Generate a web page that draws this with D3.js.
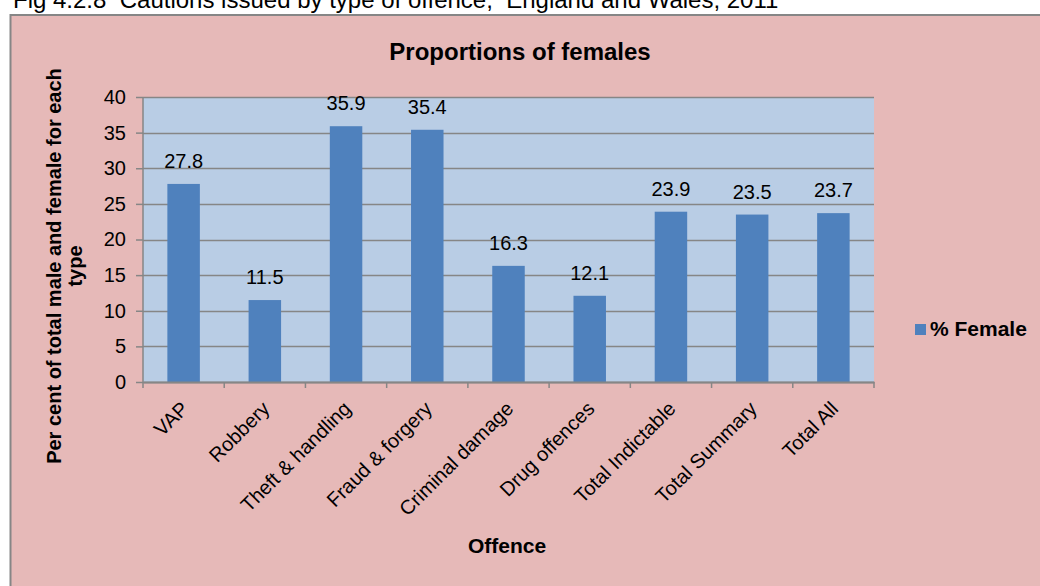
<!DOCTYPE html>
<html>
<head>
<meta charset="utf-8">
<script src="https://cdn.jsdelivr.net/npm/d3@7"></script>
<style>
  body { margin: 0; background: #ffffff; }
  svg { display: block; font-family: Arial, "Liberation Sans", sans-serif; }
</style>
</head>
<body>
<div class="chart"></div>
<script>
// Data
const categories = ["VAP", "Robbery", "Theft & handling", "Fraud & forgery", "Criminal damage",
    "Drug offences", "Total Indictable", "Total Summary", "Total All"];
const femalePct = [27.8, 11.5, 35.9, 35.4, 16.3, 12.1, 23.9, 23.5, 23.7];
const yTicks = [0, 5, 10, 15, 20, 25, 30, 35, 40];
const seriesName = "% Female";

const W = 1040, H = 586;
const margin = { top: 97, right: 166, bottom: 204, left: 143 };
const innerW = W - margin.left - margin.right;
const innerH = H - margin.top - margin.bottom;
const gridColor = "#868686";

const svg = d3.select(".chart").append("svg")
    .attr("width", W)
    .attr("height", H);

// figure caption (cut off at the top in the reference)
svg.append("text")
    .attr("x", 13)
    .attr("y", 8)
    .attr("font-size", 24)
    .attr("fill", "#000")
    .attr("xml:space", "preserve")
    .style("white-space", "pre")
    .text("Fig 4.2.8  Cautions issued by type of offence,  England and Wales, 2011");

// chart area
svg.append("rect")
    .attr("x", 10.5)
    .attr("y", 15)
    .attr("width", W)
    .attr("height", H)
    .attr("fill", "#e6b9b8")
    .attr("stroke", gridColor)
    .attr("stroke-width", 2);

const g = svg.append("g")
    .attr("transform", "translate(" + margin.left + "," + margin.top + ")");

const x = d3.scaleBand()
    .domain(categories)
    .range([0, innerW])
    .paddingInner(0.6)
    .paddingOuter(0.3);

const y = d3.scaleLinear()
    .domain([0, 40])
    .range([innerH, 0]);

// plot area
g.append("rect")
    .attr("width", innerW)
    .attr("height", innerH)
    .attr("fill", "#b9cde5");

// gridlines
g.append("g")
    .selectAll("line")
    .data(yTicks)
    .enter()
    .append("line")
    .attr("x1", 0)
    .attr("x2", innerW)
    .attr("y1", d => Math.round(y(d)) + 0.5)
    .attr("y2", d => Math.round(y(d)) + 0.5)
    .attr("stroke", gridColor)
    .attr("stroke-width", 1.5);

// bars
g.selectAll(".bar")
    .data(femalePct)
    .enter()
    .append("rect")
    .attr("class", "bar")
    .attr("x", (d, i) => x(categories[i]))
    .attr("y", d => y(d))
    .attr("width", x.bandwidth())
    .attr("height", d => innerH - y(d))
    .attr("fill", "#4f81bd");

// value labels
g.selectAll(".val")
    .data(femalePct)
    .enter()
    .append("text")
    .attr("class", "val")
    .attr("x", (d, i) => x(categories[i]) + x.bandwidth() / 2)
    .attr("y", d => y(d) - 16)
    .attr("text-anchor", "middle")
    .attr("font-size", 20)
    .attr("fill", "#000")
    .text(d => d.toFixed(1));

// y axis
const yAxis = d3.axisLeft(y).tickValues(yTicks).tickSize(7).tickPadding(10);
const yG = g.append("g").call(yAxis);
yG.select(".domain").attr("stroke", gridColor).attr("stroke-width", 1.5).attr("d", "M0," + innerH + "V0");
yG.selectAll(".tick line").attr("stroke", gridColor).attr("stroke-width", 1.5);
yG.selectAll(".tick text").attr("font-size", 20).attr("font-family", "Arial, 'Liberation Sans', sans-serif").attr("fill", "#000");

// x axis
const xAxis = d3.axisBottom(x).tickSize(0).tickFormat("");
const xG = g.append("g").attr("transform", "translate(0," + innerH + ")").call(xAxis);
xG.select(".domain").attr("stroke", gridColor).attr("stroke-width", 2);
xG.selectAll(".tick").remove();
const step = x.step();
xG.selectAll(".bound")
    .data(d3.range(categories.length + 1))
    .enter()
    .append("line")
    .attr("x1", i => i * step)
    .attr("x2", i => i * step)
    .attr("y1", 0)
    .attr("y2", 6)
    .attr("stroke", gridColor)
    .attr("stroke-width", 1.5);

// x category labels
g.selectAll(".xlab")
    .data(categories)
    .enter()
    .append("text")
    .attr("class", "xlab")
    .attr("transform", d => "translate(" + (x(d) + x.bandwidth() / 2 + 6) + "," + (innerH + 28) + ") rotate(-45)")
    .attr("text-anchor", "end")
    .attr("font-size", 20)
    .attr("fill", "#000")
    .text(d => d);

// chart title
svg.append("text")
    .attr("x", 520)
    .attr("y", 60)
    .attr("text-anchor", "middle")
    .attr("font-size", 24)
    .attr("font-weight", "bold")
    .text("Proportions of females");

// axis titles
svg.append("text")
    .attr("x", 507)
    .attr("y", 553)
    .attr("text-anchor", "middle")
    .attr("font-size", 21)
    .attr("font-weight", "bold")
    .text("Offence");

const yTitle = ["Per cent of total male and female for each", "type"];
svg.selectAll(".ytitle")
    .data(yTitle)
    .enter()
    .append("text")
    .attr("class", "ytitle")
    .attr("transform", (d, i) => "translate(" + (61 + i * 21) + ",266) rotate(-90)")
    .attr("text-anchor", "middle")
    .attr("font-size", 20)
    .attr("font-weight", "bold")
    .text(d => d);

// legend
const legend = svg.append("g").attr("transform", "translate(915,324)");
legend.append("rect")
    .attr("width", 11)
    .attr("height", 11)
    .attr("fill", "#4f81bd");
legend.append("text")
    .attr("x", 15)
    .attr("y", 12)
    .attr("font-size", 21)
    .attr("font-weight", "bold")
    .text(seriesName);
</script>
</body>
</html>
